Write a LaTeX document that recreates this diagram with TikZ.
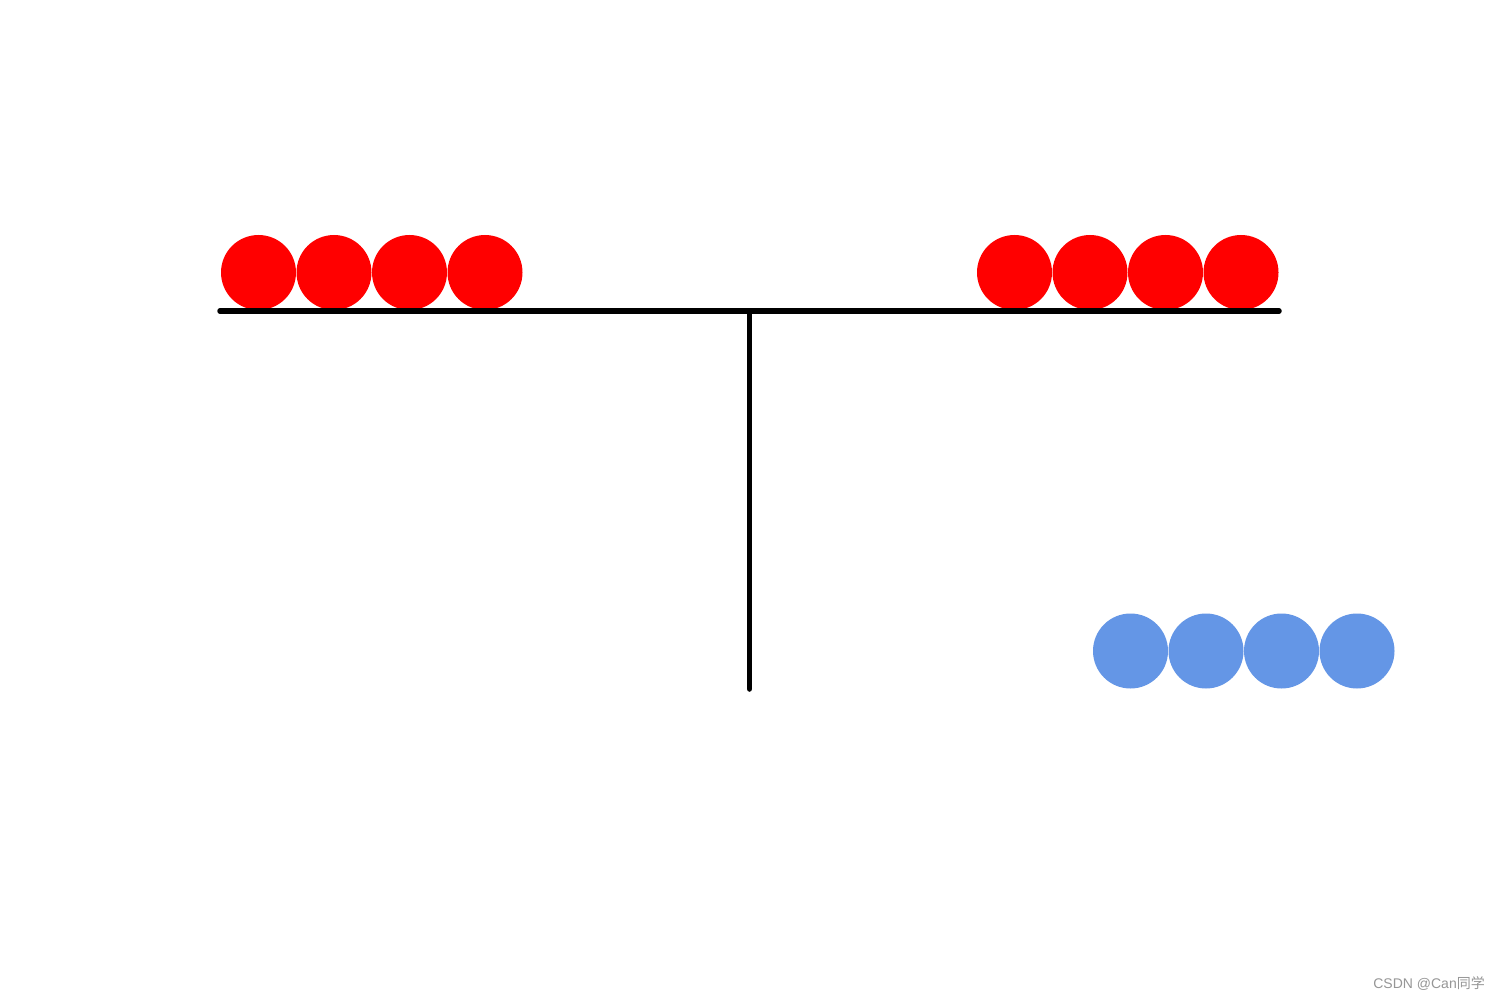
\documentclass[tikz,border=0pt]{standalone}
\usepackage{fontspec}
\setmainfont{Liberation Sans}
\newfontfamily\cjk{Noto Sans CJK SC}
\definecolor{ballred}{RGB}{255,0,0}
\definecolor{ballblue}{RGB}{100,150,230}
\definecolor{wmgray}{RGB}{150,150,150}
\begin{document}
\begin{tikzpicture}[x=1pt,y=-1pt,
  redball/.style={circle,fill=ballred,minimum size=75pt,inner sep=0pt,draw=none},
  blueball/.style={circle,fill=ballblue,minimum size=75pt,inner sep=0pt,draw=none},
  beam/.style={line width=5.5pt,line cap=round,black}]
\useasboundingbox (0,0) rectangle (1500,1000);
\fill[white] (0,0) rectangle (1500,1000);
\node[redball] (r1) at (258.5,272.5) {};
\node[redball] (r2) at (334,272.5) {};
\node[redball] (r3) at (409.5,272.5) {};
\node[redball] (r4) at (485,272.5) {};
\node[redball] (r5) at (1014.5,272.5) {};
\node[redball] (r6) at (1090,272.5) {};
\node[redball] (r7) at (1165.5,272.5) {};
\node[redball] (r8) at (1241,272.5) {};
\node[blueball] (b1) at (1130.5,651) {};
\node[blueball] (b2) at (1206,651) {};
\node[blueball] (b3) at (1281.5,651) {};
\node[blueball] (b4) at (1357,651) {};
\coordinate (bl) at (220,311);
\coordinate (br) at (1279,311);
\coordinate (pt) at (749.5,311);
\coordinate (pb) at (749.5,689);
\draw[beam] (bl) -- (br);
\draw[beam] (pt) -- (pb);
\node[text=wmgray,font=\fontsize{14}{16}\selectfont,inner sep=0pt,anchor=east] (wm) at (1485,984) {CSDN @Can{\cjk 同学}};
\end{tikzpicture}
\end{document}
